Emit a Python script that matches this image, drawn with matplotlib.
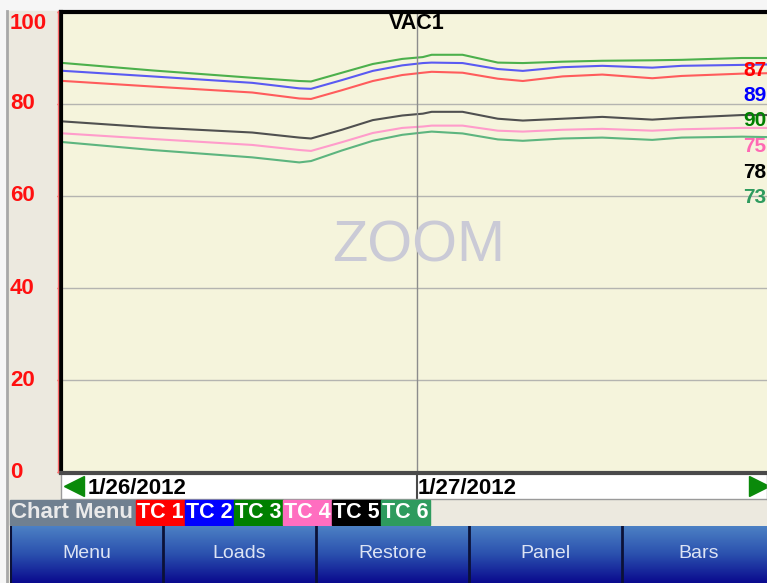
import matplotlib.pyplot as plt
import numpy as np
from matplotlib.patches import Rectangle
from matplotlib.lines import Line2D
from matplotlib.colors import LinearSegmentedColormap
from matplotlib.transforms import blended_transform_factory

plt.rcParams['font.family'] = ['Liberation Sans', 'DejaVu Sans']

W, H = 767, 583

# hours since 1/26/2012 00:00
hours = [0, 6, 12.8, 16.0, 16.8, 18.9, 21.0, 23.0, 24.4, 25.0, 27.1, 29.5,
         31.2, 33.9, 36.6, 40.0, 42.0, 46.1, 48.0]

tc1 = [85.0, 83.8, 82.5, 81.2, 81.1, 83.0, 85.0, 86.3, 86.8, 87.0, 86.8, 85.5,
       85.0, 86.0, 86.4, 85.6, 86.1, 86.6, 86.7]
tc2 = [87.2, 86.0, 84.6, 83.4, 83.3, 85.2, 87.2, 88.4, 88.9, 89.0, 88.9, 87.6,
       87.2, 88.0, 88.3, 87.9, 88.3, 88.5, 88.6]
tc3 = [88.9, 87.3, 85.7, 85.0, 84.9, 86.8, 88.7, 89.8, 90.2, 90.7, 90.7, 89.0,
       88.9, 89.2, 89.4, 89.5, 89.6, 90.0, 90.0]
tc4 = [73.6, 72.4, 71.1, 70.0, 69.8, 71.7, 73.7, 74.8, 75.1, 75.3, 75.3, 74.2,
       74.0, 74.4, 74.6, 74.2, 74.5, 74.8, 74.8]
tc5 = [76.2, 74.9, 73.8, 72.7, 72.5, 74.4, 76.5, 77.5, 77.9, 78.3, 78.3, 76.8,
       76.4, 76.8, 77.2, 76.6, 77.0, 77.6, 77.6]
tc6 = [71.7, 70.0, 68.4, 67.3, 67.6, 69.9, 72.0, 73.3, 73.8, 74.0, 73.6, 72.3,
       72.0, 72.5, 72.7, 72.2, 72.7, 72.9, 72.8]

series = [tc1, tc2, tc3, tc4, tc5, tc6]
names = ['TC 1', 'TC 2', 'TC 3', 'TC 4', 'TC 5', 'TC 6']
line_colors = ['#FF5C5C', '#5A5AF2', '#4CB04C', '#FF9CCB', '#505050', '#5DB57F']
tag_colors = ['#FF0000', '#0000FF', '#008000', '#FF6EC0', '#000000', '#2E9B5E']

# current readings shown on the right, top to bottom
readings = ['87', '89', '90', '75', '78', '73']
reading_colors = ['#FF0000', '#0000FF', '#008000', '#FF69B4', '#000000', '#2E9B5E']

yticks = [0, 20, 40, 60, 80, 100]
dates = ['1/26/2012', '1/27/2012']
date_hours = [0, 24]
buttons = ['Menu', 'Loads', 'Restore', 'Panel', 'Bars']


def px_axes(x0, y0, x1, y1):
    return fig.add_axes([x0 / W, 1 - y1 / H, (x1 - x0) / W, (y1 - y0) / H])


fig = plt.figure(figsize=(W / 100, H / 100), dpi=100, facecolor='#F6F6F6')

# panel background + left border
fig.patches.append(Rectangle((8 / W, 0), 1, 1 - 11 / H, transform=fig.transFigure,
                             color='#ECE9DF', zorder=-5))
fig.add_artist(Line2D([7 / W, 7 / W], [0, 1 - 11 / H], color='#A8A8A8', lw=2, zorder=-4))

# main chart
ax = px_axes(61, 12, 767, 472)
ax.set_facecolor('#F5F4DC')
ax.set_xlim(-0.2, 47.8)
ax.set_ylim(0, 100)
for s, c in zip(series, line_colors):
    ax.plot(hours, s, color=c, lw=1.5)
for v in yticks[1:-1]:
    ax.axhline(v, color='#B4B4B0', lw=1, zorder=0)
ax.axvline(24, color='#8C8C8C', lw=1)
ax.set_xticks([])
ax.set_yticks(yticks)
ax.set_yticklabels([])
ax.tick_params(axis='y', colors='#FF3030', length=3, width=1)
for sp in ['right', 'bottom']:
    ax.spines[sp].set_visible(False)
ax.spines['top'].set_linewidth(3)
ax.spines['left'].set_linewidth(3)
ax.text(24, 97.6, 'VAC1', ha='center', va='center', fontsize=15.5, fontweight='bold')
ax.text(24.1, 49, 'ZOOM', ha='center', va='center', fontsize=41.5, color='#CACAD6')

fig.add_artist(Line2D([57.5 / W] * 2, [1 - 472 / H, 1 - 11 / H], color='#FF6A6A', lw=1))

trans = blended_transform_factory(fig.transFigure, ax.transData)
for v in yticks:
    yy = min(v, 97.5)
    ax.text(10 / W, yy, str(v), transform=trans, color='#FF1010', fontsize=16,
            fontweight='bold', ha='left', va='center')

for i, (r, c) in enumerate(zip(readings, reading_colors)):
    fig.text(743 / W, 1 - (70 + 25.5 * i) / H, r, color=c, fontsize=15,
             fontweight='bold', ha='left', va='center')

# date bar
dax = px_axes(61, 473, 767, 499)
dax.set_facecolor('white')
dax.set_xlim(-0.2, 47.8)
dax.set_ylim(0, 1)
dax.set_xticks([])
dax.set_yticks([])
for sp in dax.spines.values():
    sp.set_color('#9A9A9A')
    sp.set_linewidth(1)
dax.spines['top'].set_color('#4A4A4A')
dax.spines['top'].set_linewidth(3)
dax.axvline(24, color='#4A4A4A', lw=1.5)
dax.plot([0.019], [0.5], marker='<', ms=15, color='#0A8A0A', transform=dax.transAxes,
         clip_on=False)
dax.plot([0.988], [0.5], marker='>', ms=15, color='#0A8A0A', transform=dax.transAxes,
         clip_on=False)
dax.text(date_hours[0] + 1.6, 0.42, dates[0], fontsize=16, fontweight='bold', va='center')
dax.text(date_hours[1] + 0.05, 0.42, dates[1], fontsize=16, fontweight='bold', va='center')

# legend / chart menu row
lax = px_axes(8, 499, 767, 526)
lax.set_xlim(8, 767)
lax.set_ylim(526, 499)
lax.axis('off')
lax.add_patch(Rectangle((10, 500), 125, 25, color='#708090'))
lax.text(72, 512.5, 'Chart Menu', color='#EAEAEA', fontsize=16, fontweight='bold',
         ha='center', va='center')
for i, (n, c) in enumerate(zip(names, tag_colors)):
    x0 = 136 + 49 * i
    lax.add_patch(Rectangle((x0, 500), 49, 25, color=c))
    lax.text(x0 + 24.5, 512.5, n, color='white', fontsize=15.5, fontweight='bold',
             ha='center', va='center')

# buttons
bax = px_axes(10, 526, 767, 583)
bax.set_xlim(10, 767)
bax.set_ylim(583, 526)
bax.axis('off')
cmap = LinearSegmentedColormap.from_list('btn', ['#4C80C4', '#2A50AE', '#0A0A8E'])
grad = np.linspace(0, 1, 64).reshape(-1, 1)
bax.imshow(grad, cmap=cmap, extent=(10, 767, 583, 526), aspect='auto')
bw = 153
for i, b in enumerate(buttons):
    x0 = 10 + bw * i
    if i > 0:
        bax.axvline(x0, color='#0C1238', lw=2)
    bax.text(x0 + bw / 2, 553, b, color='#DDE4F4', fontsize=14, ha='center', va='center')
bax.axvline(10.5, color='#0C1238', lw=1.5)

fig.savefig('out.png', dpi=100, facecolor=fig.get_facecolor())
